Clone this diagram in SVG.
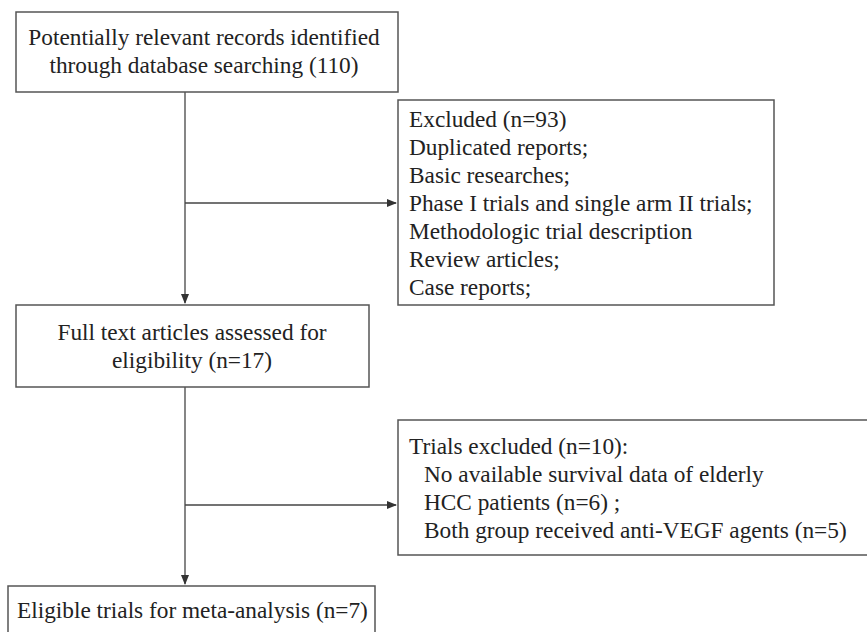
<svg xmlns="http://www.w3.org/2000/svg" width="867" height="632" viewBox="0 0 867 632">
<style>
.box{fill:#fff;stroke:#555;stroke-width:1.5}
.t{font-family:"Liberation Serif","Times New Roman",serif;font-size:23.3px;fill:#222}
.c{text-anchor:middle}
.ln{fill:none;stroke:#444;stroke-width:1.3}
</style>
<defs>
<marker id="ah" markerWidth="10" markerHeight="8" refX="9" refY="4" orient="auto" markerUnits="userSpaceOnUse">
<path d="M0,0 L10,4 L0,8 Z" fill="#333"/>
</marker>
</defs>
<rect width="867" height="632" fill="#fff"/>
<g id="connectors">
<path class="ln" d="M185,92 V303" marker-end="url(#ah)"/>
<path class="ln" d="M185,203 H396" marker-end="url(#ah)"/>
<path class="ln" d="M185,387 V584" marker-end="url(#ah)"/>
<path class="ln" d="M185,505 H396" marker-end="url(#ah)"/>
</g>
<g id="n1">
<rect class="box" x="16" y="12" width="382" height="80"/>
<text class="t c" x="204" y="45">Potentially relevant records identified</text>
<text class="t c" x="204" y="73">through database searching (110)</text>
</g>
<g id="n2">
<rect class="box" x="398" y="100" width="376" height="205"/>
<text class="t" x="409" y="127">Excluded (n=93)</text>
<text class="t" x="409" y="155">Duplicated reports;</text>
<text class="t" x="409" y="183">Basic researches;</text>
<text class="t" x="409" y="211">Phase I trials and single arm II trials;</text>
<text class="t" x="409" y="239">Methodologic trial description</text>
<text class="t" x="409" y="267">Review articles;</text>
<text class="t" x="409" y="295">Case reports;</text>
</g>
<g id="n3">
<rect class="box" x="16" y="305" width="353" height="82"/>
<text class="t c" x="192" y="340">Full text articles assessed for</text>
<text class="t c" x="192" y="368">eligibility (n=17)</text>
</g>
<g id="n4">
<rect class="box" x="398" y="420" width="475" height="135"/>
<text class="t" x="409" y="454">Trials excluded (n=10):</text>
<text class="t" x="424" y="482">No available survival data of elderly</text>
<text class="t" x="424" y="510">HCC patients (n=6) ;</text>
<text class="t" x="424" y="538">Both group received anti-VEGF agents (n=5)</text>
</g>
<g id="n5">
<rect class="box" x="8" y="586" width="367" height="60"/>
<text class="t" x="17" y="618">Eligible trials for meta-analysis (n=7)</text>
</g>
</svg>
